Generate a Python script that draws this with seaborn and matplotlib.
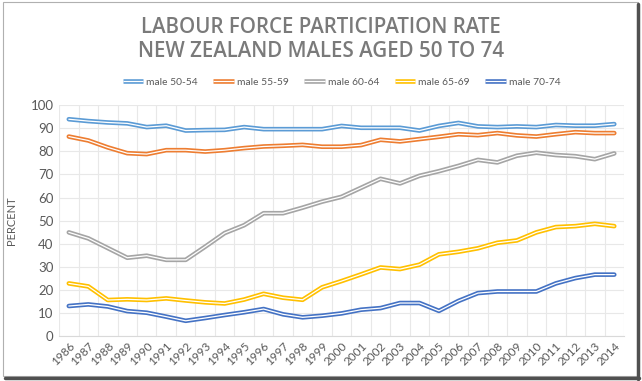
import pandas as pd
import matplotlib
matplotlib.use('Agg')
import matplotlib.pyplot as plt
import matplotlib.patheffects as pe
from matplotlib.lines import Line2D
from matplotlib.patches import Rectangle
import seaborn as sns

# Data
years = list(range(1986, 2015))
series_names = ['male 50-54', 'male 55-59', 'male 60-64', 'male 65-69', 'male 70-74']
male_50_54 = [93.9, 93.1, 92.5, 92.1, 90.5, 91.1, 89.0, 89.2, 89.3, 90.5,
              89.6, 89.6, 89.6, 89.6, 91.0, 90.2, 90.2, 90.2, 89.0, 91.0,
              92.3, 90.8, 90.5, 90.8, 90.5, 91.4, 91.1, 91.1, 91.8]
male_55_59 = [86.4, 84.7, 81.7, 79.2, 78.8, 80.5, 80.5, 79.9, 80.5, 81.4,
              82.1, 82.4, 82.8, 82.0, 82.0, 82.7, 85.0, 84.3, 85.3, 86.3,
              87.4, 87.0, 87.9, 86.9, 86.4, 87.4, 88.3, 87.9, 87.9]
male_60_64 = [44.9, 42.3, 38.1, 33.9, 34.8, 33.0, 33.0, 38.7, 44.6, 48.0,
              53.2, 53.2, 55.6, 58.2, 60.3, 64.2, 68.1, 66.1, 69.4, 71.4,
              73.7, 76.3, 75.2, 78.1, 79.4, 78.4, 77.9, 76.6, 79.1]
male_65_69 = [22.8, 21.5, 15.6, 15.9, 15.6, 16.3, 15.4, 14.6, 14.1, 15.8,
              18.3, 16.6, 15.7, 21.1, 23.8, 26.7, 29.7, 29.0, 30.9, 35.4,
              36.5, 38.0, 40.4, 41.4, 44.9, 47.2, 47.6, 48.6, 47.6]
male_70_74 = [13.0, 13.7, 12.8, 10.8, 10.1, 8.4, 6.6, 7.8, 9.1, 10.3,
              11.7, 9.4, 8.1, 8.8, 9.8, 11.4, 12.1, 14.3, 14.3, 10.9,
              15.2, 18.6, 19.3, 19.3, 19.3, 22.8, 25.1, 26.6, 26.6]
colors = ['#5B9BD5', '#ED7D31', '#A5A5A5', '#FFC000', '#4472C4']

all_values = [male_50_54, male_55_59, male_60_64, male_65_69, male_70_74]
df = pd.concat([pd.DataFrame({'Year': years, 'Rate': vals, 'Series': name})
                for name, vals in zip(series_names, all_values)])

sns.set_style('white')
plt.rcParams['font.family'] = ['Lato', 'DejaVu Sans']

fig = plt.figure(figsize=(6.42, 3.81), dpi=100)
ax = fig.add_axes([0.092, 0.118, 0.880, 0.606])

# Excel style double line: coloured outline, then a thin white core on top
sns.lineplot(data=df, x='Year', y='Rate', hue='Series', palette=colors,
             legend=False, ax=ax, linewidth=3.3)
sns.lineplot(data=df, x='Year', y='Rate', hue='Series',
             palette=['white'] * 5, legend=False, ax=ax, linewidth=0.9)

ax.set_xlim(1985.5, 2014.5)
ax.set_ylim(0, 100)
ax.set_xticks(years)
ax.set_xticklabels([str(y) for y in years], rotation=45, ha='right',
                   rotation_mode='anchor', fontsize=8.5, color='#595959')
ax.set_xticks([y + 0.5 for y in [1985] + years], minor=True)
ax.set_yticks(range(0, 101, 10))
ax.set_yticklabels([str(v) for v in range(0, 101, 10)], fontsize=9.5, color='#595959')
ax.tick_params(axis='both', which='both', length=0, pad=4)
ax.tick_params(axis='x', pad=3)
ax.grid(True, axis='y', which='major', color='#E8E8E8', linewidth=0.8)
ax.grid(True, axis='x', which='minor', color='#E8E8E8', linewidth=0.8)
ax.set_axisbelow(True)
for side in ['top', 'right', 'left']:
    ax.spines[side].set_visible(False)
ax.spines['bottom'].set_color('#D9D9D9')
ax.set_xlabel('')
ax.set_ylabel('PERCENT', fontsize=8, color='#595959', labelpad=10)

handles = [Line2D([], [], color='white', linewidth=0.9, solid_capstyle='butt',
                  path_effects=[pe.Stroke(linewidth=3.3, foreground=c,
                                          capstyle='butt'), pe.Normal()])
           for c in colors]
leg = ax.legend(handles, series_names, loc='center', bbox_to_anchor=(0.5, 1.10),
                ncol=5, frameon=False, fontsize=7.4, handlelength=2.0,
                columnspacing=1.5, handletextpad=0.3)
for t in leg.get_texts():
    t.set_color('#595959')

title_font = dict(ha='center', va='center', fontsize=14.8, fontweight='semibold',
                  color='#7A7A7A', family=['Open Sans', 'DejaVu Sans'])
fig.text(0.5, 0.929, 'LABOUR FORCE PARTICIPATION RATE', **title_font)
fig.text(0.5, 0.866, 'NEW ZEALAND MALES AGED 50 TO 74', **title_font)

# screenshot frame with shadow
fig.patches.append(Rectangle((0.004, 0.012), 0.989, 0.982, transform=fig.transFigure,
                             fill=False, edgecolor='#B0B0B0', linewidth=0.8))
fig.lines.append(plt.Line2D([0.994, 0.994], [0.004, 0.99], transform=fig.transFigure,
                            color='#505050', linewidth=2.5))
fig.lines.append(plt.Line2D([0.008, 0.996], [0.007, 0.007], transform=fig.transFigure,
                            color='#505050', linewidth=2.5))

fig.savefig('out.png', dpi=100)
